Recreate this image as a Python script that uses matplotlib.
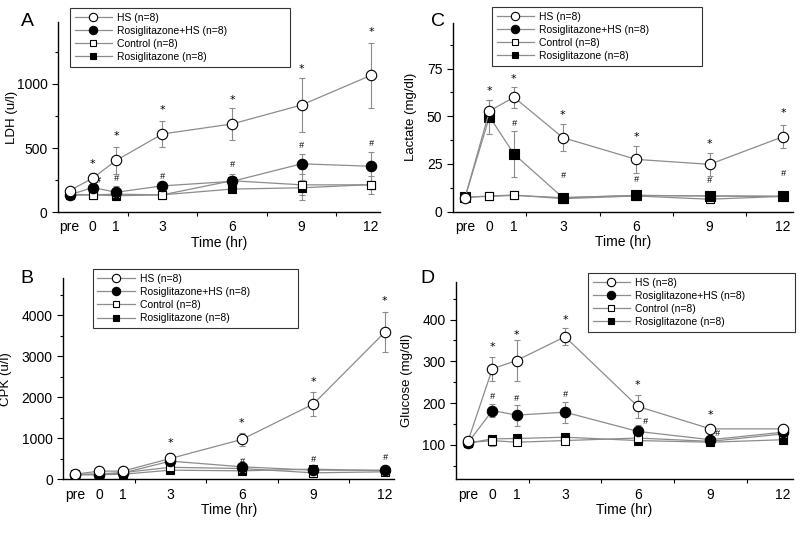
import numpy as np
import matplotlib
matplotlib.use("Agg")
import matplotlib.pyplot as plt
from matplotlib.lines import Line2D

plt.rcParams['font.family'] = ['Liberation Sans', 'DejaVu Sans']

# time points, "pre" drawn at -1
hours = [-1, 0, 1, 3, 6, 9, 12]
hour_labels = ["pre", "0", "1", "3", "6", "9", "12"]

labels = ["HS (n=8)", "Rosiglitazone+HS (n=8)", "Control (n=8)", "Rosiglitazone (n=8)"]

### panel A: LDH ###
ldh_hs = [168, 265, 403, 610, 688, 836, 1068]
ldh_hs_err = [20, 40, 105, 105, 125, 210, 255]
ldh_rhs = [135, 192, 155, 205, 240, 377, 358]
ldh_rhs_err = [15, 30, 50, 20, 40, 80, 115]
ldh_ctl = [140, 135, 140, 135, 245, 213, 213]
ldh_ctl_err = [10, 20, 25, 20, 50, 120, 70]
ldh_rosi = [130, 135, 128, 135, 180, 190, 215]
ldh_rosi_err = [10, 15, 30, 25, 25, 60, 30]
ldh_star_x = [0, 1, 3, 6, 9, 12]
ldh_star_y = [377, 597, 800, 878, 1117, 1403]
ldh_hash_x = [0.25, 1, 3, 6, 9, 12]
ldh_hash_y = [245, 262, 280, 369, 520, 532]

### panel B: CPK ###
cpk_hs = [122, 196, 196, 506, 971, 1837, 3592]
cpk_hs_err = [40, 110, 110, 140, 165, 285, 490]
cpk_rhs = [110, 110, 150, 441, 302, 220, 220]
cpk_rhs_err = [30, 40, 40, 60, 40, 30, 40]
cpk_ctl = [120, 130, 160, 290, 260, 155, 180]
cpk_ctl_err = [30, 50, 60, 80, 50, 40, 40]
cpk_rosi = [110, 110, 120, 220, 204, 245, 204]
cpk_rosi_err = [20, 30, 30, 50, 40, 40, 30]
cpk_star_x = [3, 6, 9, 12]
cpk_star_y = [890, 1380, 2384, 4343]
cpk_hash_x = [6, 9, 12]
cpk_hash_y = [424, 482, 531]

### panel C: lactate ###
lac_hs = [7.3, 52.8, 60, 38.8, 27.4, 24.8, 39.3]
lac_hs_err = [0.5, 6, 5.5, 7, 7, 6, 6]
lac_rhs = [7.5, 49.8, 30.2, 7.3, 8.5, 8.2, 8]
lac_rhs_err = [0.5, 9, 12, 1, 1, 1, 1.5]
lac_ctl = [7.5, 8.2, 8.7, 6.8, 8.2, 6.5, 8]
lac_ctl_err = [0.5, 0.5, 0.5, 0.8, 0.8, 1.2, 1]
lac_rosi = [7.5, 8.0, 8.5, 7.3, 8.5, 8.2, 8]
lac_rosi_err = [0.5, 0.5, 0.5, 0.8, 0.8, 0.8, 1]
lac_star_x = [0, 1, 3, 6, 9, 12]
lac_star_y = [63.5, 69.4, 50.7, 39.3, 35.5, 51.6]
lac_hash_x = [1, 3, 6, 9, 12]
lac_hash_y = [46, 19.2, 16.6, 16.3, 20.1]

### panel D: glucose ###
glu_hs = [109.6, 282, 302, 359, 192, 138, 138]
glu_hs_err = [5, 29, 48, 21, 28, 8, 5]
glu_rhs = [105, 182, 171, 178, 132, 112, 130]
glu_rhs_err = [4, 16, 25, 25, 15, 8, 8]
glu_ctl = [105, 110, 106, 110, 116, 108, 126]
glu_ctl_err = [4, 12, 6, 6, 6, 5, 8]
glu_rosi = [104, 114, 115, 118, 110, 106, 112]
glu_rosi_err = [4, 5, 5, 5, 4, 4, 4]
glu_star_x = [0, 1, 3, 6, 9]
glu_star_y = [334, 362, 398, 244, 172]
glu_hash_x = [0, 1, 3, 6.3, 9.3]
glu_hash_y = [215, 212, 220, 155, 126]

line_col = "#8c8c8c"
styles = [dict(marker="o", mfc="white", ms=7.5),
          dict(marker="o", mfc="black", ms=7.5),
          dict(marker="s", mfc="white", ms=6),
          dict(marker="s", mfc="black", ms=6)]


def panel(ax, series, errs, ylim, major, minor, ylabel, ylab_x, stars, hashes, marks=None):
    marks = marks or [s["marker"] for s in styles]
    # draw back to front so HS ends on top
    for i in [3, 2, 1, 0]:
        st = styles[i]
        ax.errorbar(hours, series[i], yerr=errs[i], fmt="none", ecolor=line_col,
                    elinewidth=0.8, capsize=2.5, capthick=0.8, zorder=2 + i * 0.1)
        ax.plot(hours, series[i], color=line_col, lw=0.9, marker=marks[i],
                mfc=st["mfc"], mec="black", mew=0.8, ms=st["ms"], zorder=3 + (3 - i))
    for x, y in zip(*stars):
        ax.text(x, y, "*", ha="center", va="center", fontsize=8, family="DejaVu Sans")
    for x, y in zip(*hashes):
        ax.text(x, y, "#", ha="center", va="center", fontsize=6.5, style="italic")
    ax.set_xlim(-1.5, 12.4)
    ax.set_ylim(*ylim)
    ax.set_xticks(hours)
    ax.set_xticklabels(hour_labels)
    ax.set_xticks([0, 1.5, 3, 4.5, 6, 7.5, 9, 10.5, 12], minor=True)
    ax.tick_params(axis="x", which="major", length=0, pad=6, labelsize=10)
    ax.tick_params(axis="x", which="minor", length=3, width=0.8)
    ax.set_yticks(major)
    ax.set_yticks(minor, minor=True)
    ax.tick_params(axis="y", which="major", length=4, width=0.8, labelsize=10)
    ax.tick_params(axis="y", which="minor", length=2.5, width=0.8)
    ax.spines["top"].set_visible(False)
    ax.spines["right"].set_visible(False)
    ax.spines["left"].set_linewidth(1.0)
    ax.spines["bottom"].set_linewidth(1.0)
    ax.set_xlabel("Time (hr)", fontsize=10, labelpad=1)
    ax.set_ylabel(ylabel, fontsize=9.5)
    ax.yaxis.set_label_coords(ylab_x, 0.5)


def legend(fig, box):
    handles = [Line2D([], [], color=line_col, lw=0.9, marker=s["marker"], mfc=s["mfc"],
                      mec="black", mew=0.8, ms=s["ms"] - 1.5) for s in styles]
    lg = fig.legend(handles, labels, loc="upper left", bbox_to_anchor=box,
                    bbox_transform=fig.transFigure, mode="expand", borderaxespad=0,
                    fontsize=7.5, frameon=True, fancybox=False, edgecolor="black",
                    handlelength=3.6, handletextpad=0.5, labelspacing=0.3, borderpad=0.45)
    lg.get_frame().set_linewidth(0.8)


fig = plt.figure(figsize=(8, 5.33), dpi=100)

axA = fig.add_axes([0.0725, 0.602, 0.403, 0.357])
panel(axA, [ldh_hs, ldh_rhs, ldh_ctl, ldh_rosi],
      [ldh_hs_err, ldh_rhs_err, ldh_ctl_err, ldh_rosi_err],
      (0, 1485), [0, 500, 1000], [250, 750, 1250], "LDH (u/l)", -0.124,
      (ldh_star_x, ldh_star_y), (ldh_hash_x, ldh_hash_y))

axB = fig.add_axes([0.079, 0.101, 0.414, 0.377])
panel(axB, [cpk_hs, cpk_rhs, cpk_ctl, cpk_rosi],
      [cpk_hs_err, cpk_rhs_err, cpk_ctl_err, cpk_rosi_err],
      (0, 4910), [0, 1000, 2000, 3000, 4000], [500, 1500, 2500, 3500, 4500], "CPK (u/l)", -0.155,
      (cpk_star_x, cpk_star_y), (cpk_hash_x, cpk_hash_y))

axC = fig.add_axes([0.566, 0.603, 0.425, 0.354])
panel(axC, [lac_hs, lac_rhs, lac_ctl, lac_rosi],
      [lac_hs_err, lac_rhs_err, lac_ctl_err, lac_rosi_err],
      (0, 99), [0, 25, 50, 75], [12.5, 37.5, 62.5, 87.5], "Lactate (mg/dl)", -0.106,
      (lac_star_x, lac_star_y), (lac_hash_x, lac_hash_y),
      marks=["o", "s", "s", "s"])

axD = fig.add_axes([0.57, 0.1007, 0.421, 0.37])
panel(axD, [glu_hs, glu_rhs, glu_ctl, glu_rosi],
      [glu_hs_err, glu_rhs_err, glu_ctl_err, glu_rosi_err],
      (17, 490), [100, 200, 300, 400], [50, 150, 250, 350, 450], "Glucose (mg/dl)", -0.128,
      (glu_star_x, glu_star_y), (glu_hash_x, glu_hash_y))

# legends: (x0, y0, width, height) in figure fraction
legend(fig, (0.0875, 0.878, 0.275, 0.107))
legend(fig, (0.615, 0.868, 0.263, 0.119))
legend(fig, (0.116, 0.383, 0.256, 0.112))
legend(fig, (0.735, 0.381, 0.259, 0.107))

for lab, x, y in [("A", 0.026, 0.959), ("C", 0.539, 0.959), ("B", 0.025, 0.478), ("D", 0.525, 0.477)]:
    fig.text(x, y, lab, fontsize=14, ha="left", va="center")

fig.savefig("out.png", dpi=100)
